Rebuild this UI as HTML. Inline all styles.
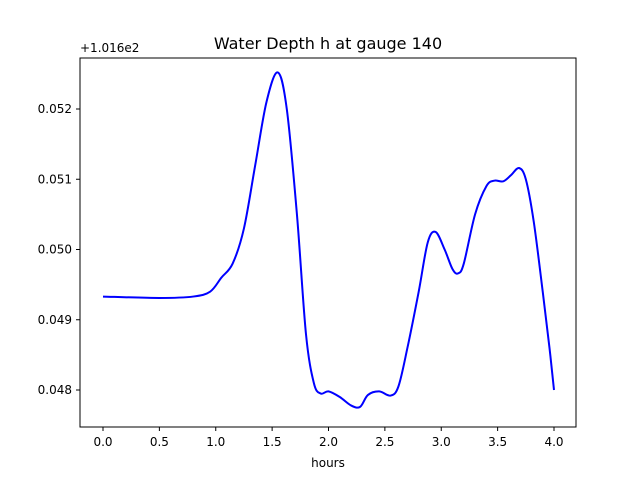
<!DOCTYPE html>
<html><head><meta charset="utf-8"><style>
body{margin:0;background:#fff}
svg{display:block;font-family:"DejaVu Sans","Liberation Sans",sans-serif}
</style></head><body>
<svg id="chart" width="640" height="480">
<rect width="640" height="480" fill="#fff"/>
<text x="328" y="49" text-anchor="middle" font-size="16">Water Depth h at gauge 140</text>
<text x="80" y="52" font-size="12">+1.016e2</text>
<text x="328" y="467" text-anchor="middle" font-size="12">hours</text>
<g id="ticks"></g>
<path id="line" fill="none" stroke="#0000ff" stroke-width="2"/>
<rect x="80" y="58" width="496" height="369" fill="none" stroke="#000" stroke-width="1"/>
</svg>
<script>
const hours=[0,0.5,0.8,0.95,1.05,1.15,1.25,1.35,1.45,1.55,1.63,1.72,1.8,1.87,1.93,2.0,2.1,2.2,2.28,2.35,2.45,2.55,2.62,2.7,2.8,2.88,2.95,3.03,3.1,3.15,3.2,3.3,3.4,3.47,3.55,3.62,3.69,3.75,3.82,3.9,3.96,4.0];
const depth=[0.04933,0.04931,0.04933,0.0494,0.0496,0.0498,0.0503,0.0512,0.0521,0.05252,0.052,0.0505,0.0488,0.0481,0.04795,0.04798,0.0479,0.04778,0.04776,0.04793,0.04798,0.04792,0.04805,0.0486,0.0494,0.0501,0.05025,0.05,0.04972,0.04966,0.0498,0.0505,0.0509,0.05098,0.05097,0.05106,0.05116,0.051,0.0504,0.0494,0.0486,0.048];
const xTicks=[0,0.5,1,1.5,2,2.5,3,3.5,4];
const yTicks=[0.048,0.049,0.05,0.051,0.052];
const X=v=>103+v*112.75, Y=v=>109+(0.052-v)*70250;
const ns="http://www.w3.org/2000/svg", g=document.getElementById('ticks');
function mk(t,a){const e=document.createElementNS(ns,t);for(const k in a)e.setAttribute(k,a[k]);g.appendChild(e);return e;}
xTicks.forEach(t=>{
 const l=mk('line',{x1:X(t),x2:X(t),y1:427,y2:431,stroke:'#000'});
 
 
 const s=mk('text',{x:X(t),y:446,'text-anchor':'middle','font-size':12});s.textContent=t.toFixed(1);
 
 
});
yTicks.forEach(t=>{
 const l=mk('line',{x1:76,x2:80,y1:Y(t),y2:Y(t),stroke:'#000'});
 
 
 const s=mk('text',{x:72,y:Y(t)+4,'text-anchor':'end','font-size':12});s.textContent=t.toFixed(3);
 
 
});
const p=hours.map((h,i)=>[X(h),Y(depth[i])]);
let d='M'+p[0][0]+','+p[0][1];
for(let i=0;i<p.length-1;i++){
 const p0=p[i-1]||p[i],p1=p[i],p2=p[i+1],p3=p[i+2]||p2;
 const c1=[p1[0]+(p2[0]-p0[0])/6,p1[1]+(p2[1]-p0[1])/6],c2=[p2[0]-(p3[0]-p1[0])/6,p2[1]-(p3[1]-p1[1])/6];
 d+=' C'+c1+' '+c2+' '+p2;
}
document.getElementById('line').setAttribute('d',d);
</script>
</body></html>
